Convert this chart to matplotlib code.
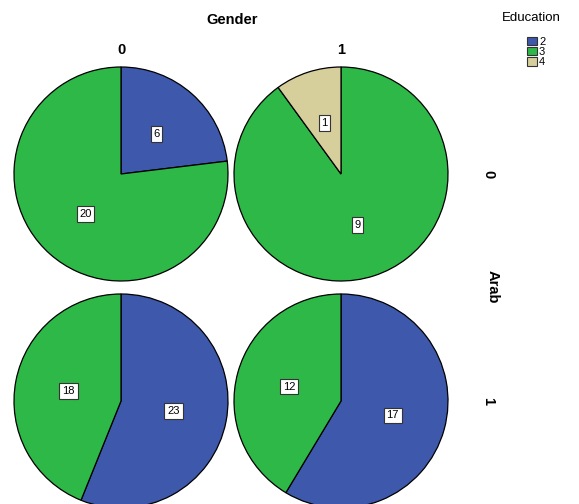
import matplotlib.pyplot as plt
from matplotlib.patches import Patch

plt.rcParams['font.family'] = ['Liberation Sans', 'DejaVu Sans']

education = ['2', '3', '4']
colors = ['#3e58ac', '#2eb848', '#d6cf9c']
gender_levels = ['0', '1']
arab_levels = ['0', '1']

# counts per Education level, rows = Arab, cols = Gender
arab0_gender0 = [6, 20, 0]
arab0_gender1 = [0, 9, 1]
arab1_gender0 = [23, 18, 0]
arab1_gender1 = [17, 12, 0]
grid = [[arab0_gender0, arab0_gender1],
        [arab1_gender0, arab1_gender1]]

W, H = 579, 504
fig = plt.figure(figsize=(W / 100, H / 100), dpi=100)

R = 107
centers_x = [121, 341]
centers_y = [174, 401]

for i, row in enumerate(grid):
    for j, vals in enumerate(row):
        cx, cy = centers_x[j], centers_y[i]
        ax = fig.add_axes([(cx - R) / W, (H - cy - R) / H, 2 * R / W, 2 * R / H])
        keep = [k for k, v in enumerate(vals) if v > 0]
        v = [vals[k] for k in keep]
        c = [colors[k] for k in keep]
        wedges, texts = ax.pie(v, colors=c, startangle=90, counterclock=False,
                               labels=[str(x) for x in v], labeldistance=0.5,
                               wedgeprops=dict(edgecolor='black', linewidth=0.9),
                               textprops=dict(fontsize=8, ha='center', va='center'))
        for t in texts:
            t.set_bbox(dict(boxstyle='square,pad=0.25', fc='white', ec='#333333', lw=0.8))
        ax.set_xlim(-1, 1)
        ax.set_ylim(-1, 1)
        ax.set_aspect('equal')
        ax.axis('off')

fig.text(232 / W, 1 - 20 / H, 'Gender', ha='center', va='center', fontsize=10.5, fontweight='bold')
for j, g in enumerate(gender_levels):
    fig.text(centers_x[j] / W, 1 - 50 / H, g, ha='center', va='center', fontsize=10.5, fontweight='bold')
for i, a in enumerate(arab_levels):
    fig.text(488 / W, 1 - centers_y[i] / H, a, ha='center', va='center', fontsize=10.5,
             fontweight='bold', rotation=-90)
fig.text(493 / W, 1 - 287 / H, 'Arab', ha='center', va='center', fontsize=10.5,
         fontweight='bold', rotation=-90)

# legend
fig.text(531 / W, 1 - 18 / H, 'Education', ha='center', va='center', fontsize=9.5)
handles = [Patch(facecolor=c, edgecolor='#333333', linewidth=0.8) for c in colors]
leg = fig.legend(handles, education, loc='upper left',
                 bbox_to_anchor=(519 / W, 1 - 29 / H), frameon=False, fontsize=8,
                 handlelength=0.9, handleheight=0.8,
                 handletextpad=0.2, labelspacing=0.0, borderpad=0.2)

fig.savefig('out.png', dpi=100)
